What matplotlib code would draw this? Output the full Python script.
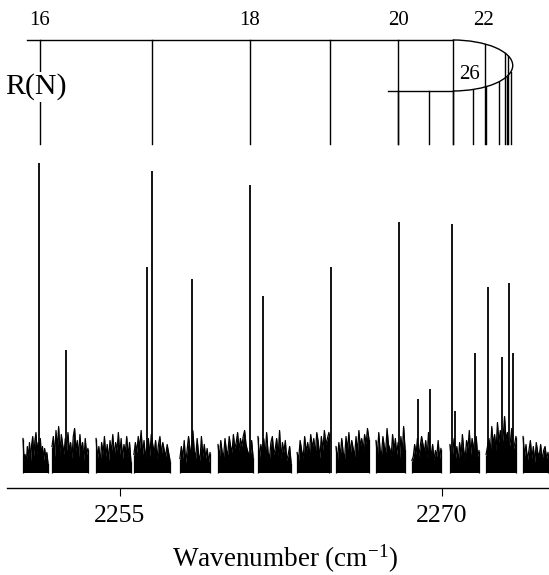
import matplotlib
matplotlib.use("Agg")
import matplotlib.pyplot as plt
from matplotlib.patches import Arc
import numpy as np

plt.rcParams.update({
    "font.family": ["Liberation Serif", "DejaVu Serif"],
    "mathtext.fontset": "stix",
})

# scan segments of the recorded spectrum (cm-1)
SEG_START = [2250.51, 2251.86, 2253.91, 2255.67, 2257.81, 2259.58, 2261.44,
             2263.26, 2265.07, 2266.93, 2268.60, 2270.37, 2272.05, 2273.77]
SEG_END = [2251.67, 2253.53, 2255.53, 2257.35, 2259.21, 2261.21, 2262.98,
           2264.74, 2266.60, 2268.28, 2269.95, 2271.72, 2273.44, 2274.93]

# baseline noise (arb. units)
NOISE = [
    [34, 12, 18, 8, 26, 14, 30, 12, 28, 36, 16, 32, 40, 18, 30, 22, 34, 16, 26, 12, 24, 14, 20, 10],
    [26, 36, 16, 42, 24, 46, 20, 38, 28, 18, 34, 22, 40, 20, 30, 14, 36, 44, 22, 32, 16, 38, 20, 30, 12, 34, 18, 24],
    [34, 14, 26, 10, 30, 18, 36, 16, 28, 12, 32, 20, 38, 16, 30, 22, 40, 18, 34, 14, 28, 20, 36, 16, 30, 12],
    [18, 30, 20, 36, 24, 42, 18, 32, 14, 26, 34, 16, 38, 28, 20, 32, 14, 28, 36, 18, 30, 22, 16, 28, 20, 12],
    [14, 26, 14, 32, 10, 22, 36, 24, 16, 42, 22, 14, 34, 18, 12, 36, 16, 28, 14, 24, 10, 20],
    [28, 14, 32, 20, 16, 34, 22, 18, 36, 26, 20, 38, 24, 30, 40, 22, 34, 26, 36, 42, 28, 22, 18, 14, 32, 16],
    [36, 14, 28, 18, 34, 16, 40, 20, 14, 30, 36, 18, 24, 34, 16, 42, 14, 30, 20, 32, 12, 18, 26, 10],
    [20, 12, 32, 22, 14, 36, 20, 30, 16, 38, 24, 34, 18, 40, 30, 14, 36, 22, 42, 28, 34, 40],
    [26, 12, 30, 16, 34, 20, 14, 36, 22, 40, 18, 32, 24, 16, 36, 20, 42, 26, 34, 22, 38, 28, 44, 34],
    [32, 16, 40, 22, 18, 36, 26, 20, 44, 28, 24, 16, 38, 22, 34, 18, 30, 14, 36, 20, 46, 24],
    [12, 16, 28, 18, 34, 16, 26, 36, 28, 20, 32, 14, 40, 22, 18, 28, 12, 22, 16, 32, 14, 24],
    [28, 12, 20, 34, 14, 26, 10, 30, 16, 38, 22, 14, 32, 24, 42, 18, 34, 26, 14, 36, 16, 22],
    [18, 26, 34, 20, 46, 28, 38, 22, 50, 30, 42, 26, 36, 56, 32, 40, 24, 30, 44, 22, 28, 36],
    [36, 16, 28, 12, 22, 32, 14, 26, 10, 30, 20, 16, 28, 12, 22, 26, 14, 20],
]

# resolved lines
PEAK_WN = [2251.27, 2252.51, 2256.27, 2256.50, 2258.39, 2261.06, 2261.67, 2264.85,
           2268.01, 2268.90, 2269.44, 2270.45, 2270.60, 2271.53, 2272.13, 2272.78,
           2273.13, 2273.32]
PEAK_H = [310, 123, 206, 302, 194, 288, 177, 206,
          251, 74, 84, 249, 62, 120, 186, 116,
          190, 120]

# R(N) assignment ladder
UPPER_WN = [2251.30, 2256.53, 2261.07, 2264.79, 2267.97, 2270.50, 2272.00, 2272.93, 2273.08]
LOWER_WN = [2267.97, 2269.41, 2270.50, 2271.43, 2272.05, 2272.67, 2273.01, 2273.20]
N_LABELS = ["16", "18", "20", "22"]
N_LABEL_WN = [2251.30, 2261.07, 2267.97, 2271.95]
HEAD_WN = 2273.29
TURN_WN = 2270.50

XTICKS = [2255, 2270]

# ladder geometry (y in intensity units)
Y_TOP, Y_LOW, Y_BOT = 432.5, 381.5, 329.0
YC, B = (Y_TOP + Y_LOW) / 2, (Y_TOP - Y_LOW) / 2
A = HEAD_WN - TURN_WN


def curve_y(x, sign):
    if x <= TURN_WN:
        return YC + sign * B
    return YC + sign * B * np.sqrt(max(0.0, 1 - ((x - TURN_WN) / A) ** 2))


fig = plt.figure(figsize=(5.49, 5.75), dpi=100)
ax = fig.add_axes([0.0122, 0.1513, 0.9878, 0.8487])

for s, e, n in zip(SEG_START, SEG_END, NOISE):
    x = np.linspace(s, e, len(n))
    ax.fill_between(x, 0, n, color="black", lw=0)
    ax.plot(x, n, color="black", lw=0.9)
    ax.vlines([s, e], 0, [n[0], n[-1]], color="black", lw=0.9)
ax.vlines(PEAK_WN, 0, PEAK_H, color="black", lw=1.3)

# ladder
ax.plot([2250.68, TURN_WN], [Y_TOP, Y_TOP], color="black", lw=1.0)
ax.plot([2267.49, TURN_WN], [Y_LOW, Y_LOW], color="black", lw=1.0)
ax.add_patch(Arc((TURN_WN, YC), 2 * A, 2 * B, theta1=-90, theta2=90,
                 color="black", lw=1.0))
for w in UPPER_WN:
    ax.plot([w, w], [curve_y(w, 1), Y_BOT], color="black", lw=1.0)
for w in LOWER_WN:
    ax.plot([w, w], [curve_y(w, -1), Y_BOT], color="black", lw=1.0)
for lab, w in zip(N_LABELS, N_LABEL_WN):
    ax.text(w, 452.5, lab, ha="center", va="center", fontsize=15)
ax.text(2271.30, 398.5, "26", ha="center", va="center", fontsize=15)
ax.text(2251.1, 385.5, "R(N)", ha="center", va="center", fontsize=21.5,
        bbox=dict(facecolor="white", edgecolor="none", pad=1.0), zorder=5)

ax.set_xlim(2249.753, 2274.977)
ax.set_ylim(-15.5, 472.5)
for sp in ["left", "right", "top"]:
    ax.spines[sp].set_visible(False)
ax.spines["bottom"].set_linewidth(1.0)
ax.set_yticks([])
ax.set_xticks(XTICKS)
ax.tick_params(axis="x", direction="out", length=6, width=0.8, pad=6, labelsize=18.5)
fig.text(285 / 549, 1 - 559 / 575, "Wavenumber (cm$^{\\mathregular{-1}}$)",
         ha="center", va="center", fontsize=19.5)

fig.savefig("out.png", dpi=100)
